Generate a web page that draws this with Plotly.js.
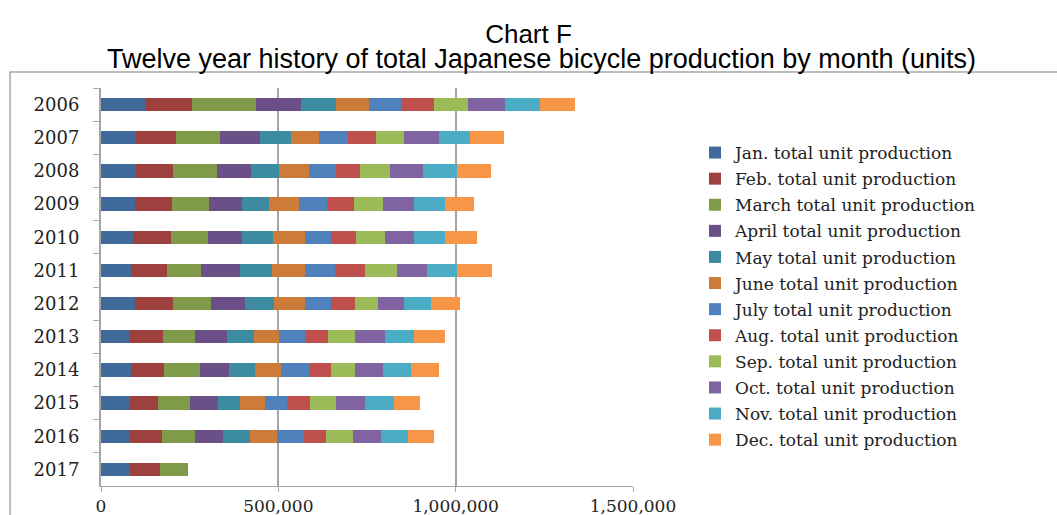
<!DOCTYPE html>
<html>
<head>
<meta charset="utf-8">
<script src="https://cdn.plot.ly/plotly-3.0.1.min.js"></script>
<style>html,body{margin:0;padding:0;background:#fff;}#chart{width:1057px;height:515px;}</style>
</head>
<body>
<div id="chart"></div>
<script>
const years = ['2006','2007','2008','2009','2010','2011','2012','2013','2014','2015','2016','2017'];
const seriesNames = ['Jan. total unit production','Feb. total unit production','March total unit production','April total unit production','May total unit production','June total unit production','July total unit production','Aug. total unit production','Sep. total unit production','Oct. total unit production','Nov. total unit production','Dec. total unit production'];
const jan = [124000, 97800, 97800, 94900, 91200, 83700, 94900, 80800, 83700, 80800, 80800, 80800];
const feb = [133500, 112800, 105300, 105300, 105300, 102500, 108100, 94000, 94000, 79000, 90200, 86500];
const mar = [180500, 126000, 124100, 104300, 104300, 95900, 108100, 90200, 101500, 90200, 94000, 79000];
const apr = [127000, 112800, 96800, 94000, 97800, 109000, 94900, 90200, 82700, 79900, 79000, null];
const may = [97800, 87400, 79000, 76100, 87400, 90200, 81800, 76100, 73300, 61100, 76100, null];
const jun = [94000, 79000, 83700, 82700, 89300, 94000, 87400, 71400, 71400, 72400, 76100, null];
const jul = [90000, 79900, 75200, 79900, 73300, 83700, 72400, 73300, 79900, 62000, 75200, null];
const aug = [93000, 79000, 68600, 76100, 71400, 86500, 68600, 64900, 61100, 64900, 62000, null];
const sep = [94000, 79900, 83700, 81800, 79900, 89300, 64900, 75200, 68600, 72400, 76100, null];
const oct = [105000, 97800, 94000, 87400, 82700, 84600, 72400, 83700, 79000, 82700, 79000, null];
const nov = [97800, 89300, 96800, 87400, 86500, 85500, 76100, 82700, 79900, 79900, 76100, null];
const dec = [100600, 94000, 94000, 81800, 90200, 98700, 82700, 86500, 79000, 74300, 75200, null];
const xTicks = [0, 500000, 1000000, 1500000];
const titleText = 'Chart F';
const subtitleText = 'Twelve year history of total Japanese bicycle production by month (units)';

const monthly = [jan, feb, mar, apr, may, jun, jul, aug, sep, oct, nov, dec];
const colors = ['#3F6A9A','#9E413E','#7F9A48','#6A5087','#3C8BA1','#CC7C38','#4F81BD','#C0504D','#9BBB59','#8064A2','#4BACC6','#F79646'];

const traces = monthly.map((vals, i) => ({
  type: 'bar',
  orientation: 'h',
  name: seriesNames[i],
  y: years,
  x: vals,
  legendgroup: 'g' + i,
  marker: {color: colors[i], line: {width: 0}},
  hoverinfo: 'x+name'
}));

const L = 101, R = 633, T = 88, B = 486;
const px2x = p => (p - L) / (R - L);
const px2y = p => (B - p) / (B - T);

const layout = {
  width: 1057, height: 515,
  margin: {l: L, r: 1057 - R, t: T, b: 515 - B, pad: 0},
  paper_bgcolor: '#fff', plot_bgcolor: '#fff',
  barmode: 'stack',
  bargap: 0.6,
  showlegend: true,
  title: {
    text: titleText,
    font: {family: 'Liberation Sans, Arial, sans-serif', size: 26, color: '#000'},
    x: 0.5, xanchor: 'center', xref: 'container',
    y: 1 - 25 / 515, yanchor: 'top', yref: 'container'
  },
  annotations: [
    {text: subtitleText, xref: 'paper', yref: 'paper', x: px2x(541), y: px2y(42),
     xanchor: 'center', yanchor: 'top', showarrow: false,
     font: {family: 'Liberation Sans, Arial, sans-serif', size: 27, color: '#000'}}
  ],
  xaxis: {
    range: [0, 1500000],
    tickvals: xTicks,
    tickformat: ',',
    showgrid: true, gridcolor: '#a6a6a6', gridwidth: 2,
    zeroline: false,
    showline: true, linecolor: '#a6a6a6', linewidth: 1,
    ticks: 'outside', ticklen: 5, tickcolor: '#a6a6a6',
    tickfont: {family: 'DejaVu Serif, serif', size: 17, color: '#222'},
    fixedrange: true
  },
  yaxis: {
    type: 'category',
    autorange: 'reversed',
    showline: true, linecolor: '#a6a6a6', linewidth: 2,
    ticks: 'outside', ticklen: 6, tickcolor: '#a6a6a6',
    tickson: 'boundaries',
    showgrid: false,
    tickfont: {family: 'DejaVu Serif, serif', size: 18, color: '#222'},
    ticklabelstandoff: 16,
    fixedrange: true
  },
  legend: {
    x: px2x(695), xanchor: 'left',
    y: px2y(135), yanchor: 'top',
    traceorder: 'grouped',
    tracegroupgap: 1,
    itemwidth: 30,
    font: {family: 'DejaVu Serif, serif', size: 17, color: '#222'},
    bgcolor: 'rgba(0,0,0,0)'
  },
  shapes: [
    {type: 'rect', xref: 'paper', yref: 'paper',
     x0: px2x(10), x1: px2x(1080), y0: px2y(72), y1: px2y(540),
     line: {color: '#a6a6a6', width: 1.5}, fillcolor: 'rgba(0,0,0,0)', layer: 'below'}
  ]
};

Plotly.newPlot('chart', traces, layout, {displayModeBar: false, staticPlot: true});
</script>
</body>
</html>
